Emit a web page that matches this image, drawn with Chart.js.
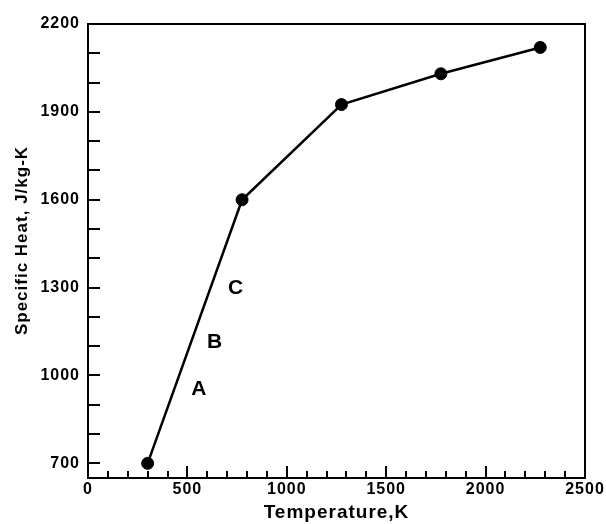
<!DOCTYPE html>
<html><head><meta charset="utf-8">
<script src="https://cdn.jsdelivr.net/npm/chart.js@4/dist/chart.umd.min.js"></script>
<style>html,body{margin:0;padding:0;background:#fff}#wrap{width:606px;height:524px}</style>
</head><body><div id="wrap"><canvas id="c" width="606" height="524"></canvas></div>
<script>
// Data
const temperatureK = [300, 775, 1275, 1775, 2275];
const specificHeat = [700, 1600, 1925, 2030, 2120];
const xTicks = [0, 500, 1000, 1500, 2000, 2500];
const yTicks = [700, 1000, 1300, 1600, 1900, 2200];
const regionLabels = ['A', 'B', 'C'];
const regionLabelX = [558, 637, 742];
const regionLabelY = [953, 1114, 1298];
const yTitle = 'Specific Heat, J/kg-K';
const xTitle = 'Temperature,K';

const FAMILY = '"Liberation Sans", Arial, Helvetica, sans-serif';

const framePlugin = {
  id: 'framePlugin',
  beforeDraw(chart) { chart.ctx.letterSpacing = '1px'; },
  afterDraw(chart) {
    const ctx = chart.ctx, ca = chart.chartArea;
    const xs = chart.scales.x, ys = chart.scales.y;
    ctx.save();
    ctx.strokeStyle = '#000';
    ctx.lineWidth = 2;
    ctx.beginPath();
    ctx.moveTo(ca.left - 1, ca.top); ctx.lineTo(ca.right, ca.top);
    ctx.moveTo(ca.right, ca.top - 1); ctx.lineTo(ca.right, ca.bottom);
    // x ticks (inward)
    for (let v = xs.min + 100; v < xs.max; v += 100) {
      const px = Math.round(xs.getPixelForValue(v));
      const len = (v % 500 === 0) ? 12 : 7;
      ctx.moveTo(px, ca.bottom); ctx.lineTo(px, ca.bottom - len);
    }
    // y ticks (inward)
    for (let v = 700; v < ys.max; v += 100) {
      const py = Math.round(ys.getPixelForValue(v));
      ctx.moveTo(ca.left, py); ctx.lineTo(ca.left + 12, py);
    }
    ctx.stroke();
    ctx.fillStyle = '#000';
    // y axis title
    ctx.save();
    ctx.font = 'bold 17px ' + FAMILY;
    ctx.letterSpacing = '1px';
    ctx.textAlign = 'center';
    ctx.textBaseline = 'middle';
    ctx.translate(22, (ca.top + ca.bottom) / 2 - 10.5);
    ctx.rotate(-Math.PI / 2);
    ctx.fillText(yTitle, 0, 0);
    ctx.restore();
    // region labels
    ctx.font = 'bold 21px ' + FAMILY;
    ctx.letterSpacing = '0px';
    ctx.textAlign = 'center';
    ctx.textBaseline = 'middle';
    regionLabels.forEach((t, i) => {
      ctx.fillText(t, xs.getPixelForValue(regionLabelX[i]), ys.getPixelForValue(regionLabelY[i]));
    });
    ctx.restore();
  }
};

const plain = v => String(v);

new Chart(document.getElementById('c'), {
  type: 'scatter',
  data: {
    datasets: [{
      data: temperatureK.map((x, i) => ({ x, y: specificHeat[i] })),
      showLine: true,
      borderColor: '#000',
      borderWidth: 2.5,
      pointRadius: 6,
      pointBorderWidth: 1,
      pointBackgroundColor: '#000',
      pointBorderColor: '#000',
      clip: false
    }]
  },
  options: {
    responsive: false,
    animation: false,
    devicePixelRatio: 1,
    layout: { padding: { top: 24, right: 21, left: 0, bottom: 0 } },
    plugins: { legend: { display: false }, tooltip: { enabled: false } },
    scales: {
      x: {
        type: 'linear', min: 0, max: 2500,
        afterBuildTicks: s => { s.ticks = xTicks.map(v => ({ value: v })); },
        afterFit: s => { s.height = 46; },
        grid: { display: false, drawTicks: false },
        border: { display: true, color: '#000', width: 2 },
        ticks: { color: '#000', font: { family: FAMILY, size: 16, weight: 'bold' }, padding: 2, maxRotation: 0, autoSkip: false, callback: plain },
        title: { display: true, text: xTitle, color: '#000', font: { family: FAMILY, size: 19, weight: 'bold' }, padding: { top: 0, bottom: 0 } }
      },
      y: {
        type: 'linear', min: 650, max: 2200,
        afterBuildTicks: s => { s.ticks = yTicks.map(v => ({ value: v })); },
        afterFit: s => { s.width = 88; },
        grid: { display: false, drawTicks: false },
        border: { display: true, color: '#000', width: 2 },
        ticks: { color: '#000', font: { family: FAMILY, size: 16, weight: 'bold' }, padding: 8, autoSkip: false, callback: plain },
        title: { display: false }
      }
    }
  },
  plugins: [framePlugin]
});
</script>
</body></html>
